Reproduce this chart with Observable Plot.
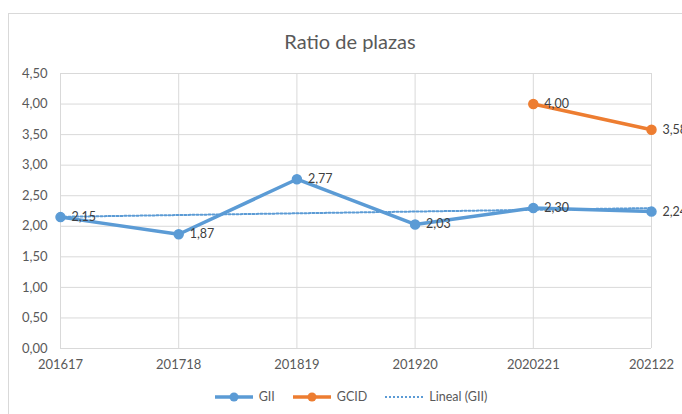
<!DOCTYPE html>
<html>
<head>
<meta charset="utf-8">
<script src="https://cdn.jsdelivr.net/npm/d3@7"></script>
<script src="https://cdn.jsdelivr.net/npm/@observablehq/plot@0.6"></script>
<style>
  html, body { margin: 0; padding: 0; background: #fff; }
  #wrap { position: relative; width: 682px; height: 414px; overflow: hidden; background: #fff; font-family: Lato, "Open Sans", sans-serif; }
  #frame { position: absolute; left: 8px; top: 13px; width: 720px; height: 440px; border: 1px solid #d9d9d9; box-sizing: border-box; }
  #title { position: absolute; left: 0; width: 700px; top: 29px; text-align: center; font-size: 20px; color: #595959; }
  #chart { position: absolute; left: 0; top: 55px; }
  #legend { position: absolute; left: 0; width: 700px; top: 389px; display: flex; justify-content: center; align-items: center; font-size: 12.5px; color: #595959; gap: 0; }
  #legend .item { display: flex; align-items: center; margin: 0 8px; }
  #legend svg { margin-right: 4px; }
</style>
</head>
<body>
<div id="wrap">
  <div id="frame"></div>
  <div id="title">Ratio de plazas</div>
  <div id="chart"></div>
  <div id="legend"></div>
</div>
<script>
const categories = ["201617", "201718", "201819", "201920", "2020221", "202122"];
const giiValues = [2.15, 1.87, 2.77, 2.03, 2.30, 2.24];
const gcidValues = [null, null, null, null, 4.00, 3.58];
const yTicks = [0, 0.5, 1, 1.5, 2, 2.5, 3, 3.5, 4, 4.5];

const blue = "#5B9BD5";
const orange = "#ED7D31";
const grid = "#D9D9D9";
const textColor = "#595959";

const fmt = v => d3.format(".2f")(v).replace(".", ",");

const gii = categories.map((c, i) => ({i, c, v: giiValues[i]}));
const gcid = categories.map((c, i) => ({i, c, v: gcidValues[i]})).filter(d => d.v != null);

const plot = Plot.plot({
  width: 682,
  height: 325,
  marginLeft: 60,
  marginRight: 31,
  marginTop: 18,
  marginBottom: 32,
  style: {fontFamily: "Lato, 'Open Sans', sans-serif", fontSize: "12px", color: textColor, background: "transparent"},
  x: {type: "linear", domain: [0, categories.length - 1], ticks: categories.map((c, i) => i), tickFormat: i => categories[i], label: null},
  y: {domain: [0, 4.5], ticks: yTicks, tickFormat: fmt, label: null},
  marks: [
    Plot.gridX(categories.map((c, i) => i), {stroke: grid, strokeOpacity: 1, strokeWidth: 1}),
    Plot.gridY(yTicks, {stroke: grid, strokeOpacity: 1, strokeWidth: 1}),
    Plot.axisX({ticks: categories.map((c, i) => i), tickFormat: i => categories[i], tickSize: 0, tickPadding: 11, fill: textColor, fontSize: 13, label: null}),
    Plot.axisY({ticks: yTicks, tickFormat: fmt, tickSize: 0, tickPadding: 13, fill: textColor, fontSize: 13, label: null}),
    Plot.line(gii, {x: "i", y: "v", stroke: blue, strokeWidth: 3.5, strokeLinejoin: "round", strokeLinecap: "round"}),
    Plot.dot(gii, {x: "i", y: "v", r: 4.5, fill: blue, stroke: blue}),
    Plot.line(gcid, {x: "i", y: "v", stroke: orange, strokeWidth: 3.5, strokeLinejoin: "round", strokeLinecap: "round"}),
    Plot.dot(gcid, {x: "i", y: "v", r: 4.5, fill: orange, stroke: orange}),
    Plot.linearRegressionY(gii, {x: "i", y: "v", ci: 0, stroke: blue, strokeWidth: 2, strokeDasharray: "2 2"}),
    Plot.text(gii, {x: "i", y: "v", text: d => fmt(d.v), textAnchor: "start", dx: 11, fill: "#404040", fontSize: 12.5}),
    Plot.text(gcid, {x: "i", y: "v", text: d => fmt(d.v), textAnchor: "start", dx: 11, fill: "#404040", fontSize: 12.5})
  ]
});
document.getElementById("chart").appendChild(plot);

// Legend
const legendItems = [
  {label: "GII", color: blue, kind: "marker"},
  {label: "GCID", color: orange, kind: "marker"},
  {label: "Lineal (GII)", color: blue, kind: "dotted"}
];
const legend = document.getElementById("legend");
for (const item of legendItems) {
  const div = document.createElement("div");
  div.className = "item";
  const ns = "http://www.w3.org/2000/svg";
  const svg = document.createElementNS(ns, "svg");
  svg.setAttribute("width", 42);
  svg.setAttribute("height", 12);
  const line = document.createElementNS(ns, "line");
  line.setAttribute("x1", 2); line.setAttribute("x2", 40);
  line.setAttribute("y1", 6); line.setAttribute("y2", 6);
  line.setAttribute("stroke", item.color);
  if (item.kind === "marker") {
    line.setAttribute("stroke-width", 3.5);
    svg.appendChild(line);
    const c = document.createElementNS(ns, "circle");
    c.setAttribute("cx", 21); c.setAttribute("cy", 6); c.setAttribute("r", 4.5);
    c.setAttribute("fill", item.color);
    svg.appendChild(c);
  } else {
    line.setAttribute("stroke-width", 2);
    line.setAttribute("stroke-dasharray", "2 2");
    svg.appendChild(line);
  }
  div.appendChild(svg);
  const span = document.createElement("span");
  span.textContent = item.label;
  div.appendChild(span);
  legend.appendChild(div);
}
</script>
</body>
</html>
